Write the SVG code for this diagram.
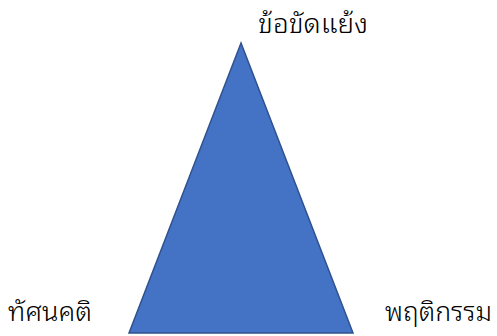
<svg xmlns="http://www.w3.org/2000/svg" width="497" height="336" viewBox="0 0 497 336">
<style>
.lbl{font-family:"Noto Sans Thai Looped","Noto Serif Thai","Noto Sans Thai","Noto Sans",sans-serif;font-size:27px;font-weight:300;fill:#000}
.tri{fill:#4472C4;stroke:#2F528F;stroke-width:1.5}
</style>
<rect width="497" height="336" fill="#fff"/>
<g id="triangle">
<polygon class="tri" points="241,43 353,333 129,333"/>
</g>
<g id="conflict"><text class="lbl" x="258" y="33" textLength="110" lengthAdjust="spacingAndGlyphs">ข้อขัดแย้ง</text></g>
<g id="attitude"><text class="lbl" x="8" y="321" textLength="84" lengthAdjust="spacingAndGlyphs">ทัศนคติ</text></g>
<g id="behavior"><text class="lbl" x="385" y="321" textLength="107" lengthAdjust="spacingAndGlyphs">พฤติกรรม</text></g>
<g id="connectors"></g>
</svg>
